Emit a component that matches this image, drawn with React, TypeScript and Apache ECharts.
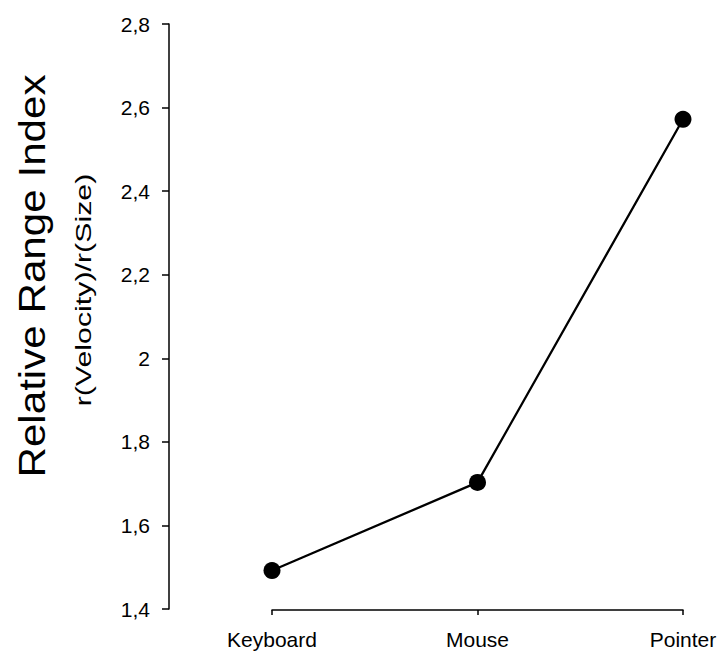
import React, { useEffect, useRef } from "react";
import * as echarts from "echarts";

const categories = ["Keyboard", "Mouse", "Pointer"];
const values = [1.492, 1.703, 2.572];
const yMin = 1.4;
const yMax = 2.8;
const yStep = 0.2;
const titleMain = "Relative Range Index";
const titleSub = "r(Velocity)/r(Size)";

const FONT = "'Liberation Sans', Arial, sans-serif";

export default function App() {
  const ref = useRef<HTMLDivElement>(null);
  useEffect(() => {
    if (!ref.current) return;
    const chart = echarts.init(ref.current, undefined, { renderer: "svg" });
    chart.setOption({
      animation: false,
      backgroundColor: "#ffffff",
      grid: { left: 272, right: 38, top: 24, bottom: 46, containLabel: false },
      xAxis: {
        type: "category",
        data: categories,
        boundaryGap: false,
        offset: 1,
        axisLine: { lineStyle: { color: "#000", width: 1.5 } },
        axisTick: { show: true, length: 5, lineStyle: { color: "#000", width: 1.5 } },
        axisLabel: { color: "#000", fontSize: 21, fontFamily: FONT, margin: 19 },
        splitLine: { show: false },
      },
      yAxis: {
        type: "value",
        min: yMin,
        max: yMax,
        interval: yStep,
        offset: 103,
        axisLine: { show: true, lineStyle: { color: "#000", width: 1.5 } },
        axisTick: { show: true, length: 7, lineStyle: { color: "#000", width: 1.5 } },
        axisLabel: {
          color: "#000",
          fontSize: 21,
          fontFamily: FONT,
          margin: 19,
          formatter: (v: number) => {
            const s = Math.abs(v - 2) < 1e-9 ? "2" : v.toFixed(1);
            return s.replace(".", ",");
          },
        },
        splitLine: { show: false },
      },
      series: [
        {
          type: "line",
          data: values,
          symbol: "circle",
          symbolSize: 17,
          lineStyle: { color: "#000", width: 2.3 },
          itemStyle: { color: "#000" },
        },
      ],
      graphic: [
        {
          type: "text",
          x: 32,
          y: 276,
          rotation: Math.PI / 2,
          scaleX: 1.14,
          style: {
            text: titleMain,
            fontSize: 37,
            fontFamily: FONT,
            fill: "#000",
            textAlign: "center",
            textVerticalAlign: "middle",
          },
        },
        {
          type: "text",
          x: 84,
          y: 290,
          rotation: Math.PI / 2,
          scaleX: 1.38,
          style: {
            text: titleSub,
            fontSize: 22,
            fontFamily: FONT,
            fill: "#000",
            textAlign: "center",
            textVerticalAlign: "middle",
          },
        },
      ],
    });
    return () => chart.dispose();
  }, []);
  return <div ref={ref} style={{ width: 721, height: 655, position: "absolute", left: 0, top: 0 }} />;
}
